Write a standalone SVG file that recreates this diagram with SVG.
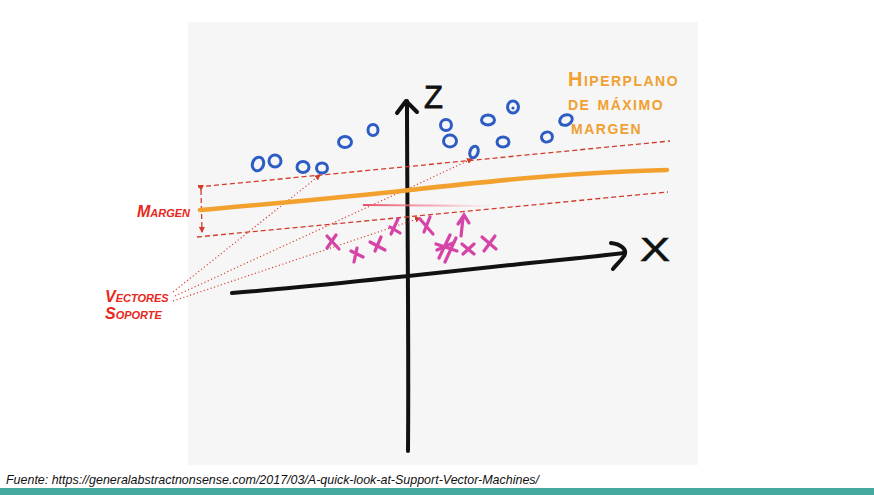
<svg xmlns="http://www.w3.org/2000/svg" width="874" height="495" viewBox="0 0 874 495">
<style>
.ax{stroke:#111;stroke-width:4;fill:none;stroke-linecap:round;stroke-linejoin:round}
.axl{fill:#111;font-family:"Liberation Sans",Arial,sans-serif;font-weight:normal}
.bl{stroke:#2d5cc4;stroke-width:3;fill:none}
.pk{stroke:#d544a6;stroke-width:3.2;fill:none;stroke-linecap:round}
.dash{stroke:#d43a2a;stroke-width:1.3;fill:none;stroke-dasharray:5 3}
.dot{stroke:#d43a2a;stroke-width:1.1;fill:none;stroke-dasharray:1.2 2.4}
.red{fill:#e8281c;font-family:"Liberation Sans",Arial,sans-serif;font-weight:bold;font-style:italic;font-variant:small-caps;font-size:16px}
.org{fill:#f0a030;font-family:"Liberation Sans",Arial,sans-serif;font-weight:bold;font-variant:small-caps;font-size:20px;letter-spacing:1.5px}
</style>
<defs>
<marker id="ah" markerWidth="6" markerHeight="6" refX="5" refY="3" orient="auto" markerUnits="userSpaceOnUse">
<path d="M0,0 L6,3 L0,6 Z" fill="#d43a2a"/>
</marker>
<linearGradient id="fade" x1="0" y1="0" x2="1" y2="0">
<stop offset="0" stop-color="#e8506a"/>
<stop offset="0.6" stop-color="#f08898" stop-opacity="0.6"/>
<stop offset="1" stop-color="#f5b0b8" stop-opacity="0"/>
</linearGradient>
</defs>
<rect width="874" height="495" fill="#ffffff"/>
<rect id="panel" x="188" y="22" width="510" height="443" fill="#f6f6f6"/>

<g id="axes">
<path class="ax" d="M232,293 C300,288 420,275 520,264 C570,259 600,256 624,253"/>
<path class="ax" d="M611,243 C620,244 628,249 624,256 C620,262 615,266 613,269"/>
<path class="ax" d="M407,101 C407,200 409,330 408,451"/>
<path class="ax" d="M397,113 L406,101 L417,112"/>
<text class="axl" x="424" y="108" font-size="31" stroke="#111" stroke-width="0.8">Z</text>
<text class="axl" x="640" y="261" font-size="33" stroke="#111" stroke-width="0.6" textLength="30" lengthAdjust="spacingAndGlyphs">X</text>
</g>

<g id="connectors">
<path class="dash" d="M198,187 L670,141"/>
<path class="dash" d="M197,237 L668,192"/>
<path class="dash" d="M201,190 L202,232" marker-start="url(#ah)" marker-end="url(#ah)"/>
<path class="dot" d="M173,292 L320,175" marker-end="url(#ah)"/>
<path class="dot" d="M175,296 L472,159" marker-end="url(#ah)"/>
<path class="dot" d="M173,301 L420,218" marker-end="url(#ah)"/>
<path d="M363,205 L493,206" stroke="url(#fade)" stroke-width="2.2" fill="none"/>
</g>

<g id="hyperplane">
<path d="M200,210 C280,203 350,197 410,190 C500,180 580,172 667,170" stroke="#f2a12e" stroke-width="4.5" fill="none" stroke-linecap="round"/>
</g>

<g id="circles">
<ellipse class="bl" cx="258" cy="164" rx="5.5" ry="7" transform="rotate(20 258 164)"/>
<ellipse class="bl" cx="275" cy="161" rx="6" ry="6"/>
<ellipse class="bl" cx="303" cy="167" rx="6" ry="5.5"/>
<ellipse class="bl" cx="322" cy="168" rx="5.5" ry="5"/>
<ellipse class="bl" cx="345" cy="142" rx="6.5" ry="5.5"/>
<ellipse class="bl" cx="373" cy="130" rx="5" ry="5.5"/>
<ellipse class="bl" cx="446" cy="125" rx="5.5" ry="5.5"/>
<ellipse class="bl" cx="450" cy="141" rx="6.5" ry="6"/>
<ellipse class="bl" cx="474" cy="152" rx="4" ry="6" transform="rotate(20 474 152)"/>
<ellipse class="bl" cx="488" cy="120" rx="6.5" ry="5"/>
<ellipse class="bl" cx="503" cy="142" rx="6" ry="5"/>
<ellipse class="bl" cx="513" cy="107" rx="5.5" ry="6"/>
<circle cx="513" cy="108" r="1.6" fill="#2d5cc4"/>
<ellipse class="bl" cx="547" cy="137" rx="5.5" ry="5" transform="rotate(-20 547 137)"/>
<ellipse class="bl" cx="566" cy="120" rx="6.5" ry="5" transform="rotate(-25 566 120)"/>
</g>

<g id="crosses">
<path class="pk" d="M327,236 L339,249 M336,235 L327,248"/>
<path class="pk" d="M351,251 L363,257 M357,248 L354,262"/>
<path class="pk" d="M370,242 L385,250 M381,237 L375,251"/>
<path class="pk" d="M390,227 L400,233 M398,219 L391,234"/>
<path class="pk" d="M420,219 L433,234 M430,217 L424,232"/>
<path class="pk" d="M463,218 L461,236 M458,224 L464,215 L469,223"/>
<path class="pk" d="M436,244 L457,251 M437,250 L453,243 M439,258 L450,235 M445,262 L456,238"/>
<path class="pk" d="M462,244 L474,254 M474,244 L463,254"/>
<path class="pk" d="M482,237 L496,249 M495,236 L484,251"/>
</g>

<g id="label-margen"><text class="red" x="137" y="217">Margen</text></g>
<g id="label-vectores">
<text class="red" x="105" y="302">Vectores</text>
<text class="red" x="105" y="319">Soporte</text>
</g>
<g id="label-hiperplano">
<text class="org" x="568" y="86">Hiperplano</text>
<text class="org" x="568" y="110">de máximo</text>
<text class="org" x="571" y="134">margen</text>
</g>

<text x="6" y="484" font-family="Liberation Sans,Arial,sans-serif" font-style="italic" font-size="13" fill="#111" textLength="533" lengthAdjust="spacingAndGlyphs">Fuente: https://generalabstractnonsense.com/2017/03/A-quick-look-at-Support-Vector-Machines/</text>
<rect x="0" y="488" width="874" height="7" fill="#45a9a2"/>
</svg>
